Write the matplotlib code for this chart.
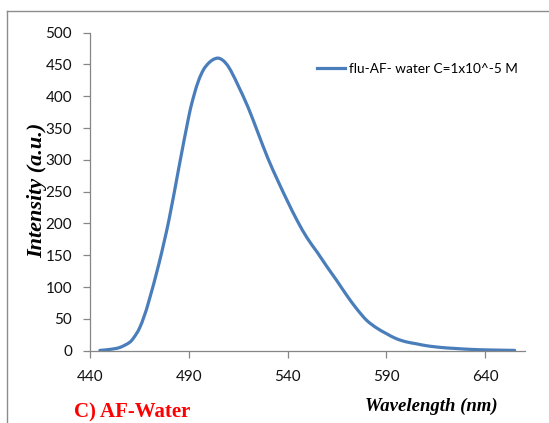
import matplotlib
matplotlib.use("Agg")
import matplotlib.pyplot as plt
from matplotlib.lines import Line2D
from matplotlib.path import Path
from matplotlib.patches import PathPatch

# Fluorescence emission spectrum, AF in water
wavelength = [445, 450, 455, 460, 462.5, 465, 467.5, 470, 475, 480, 485, 490,
              492.5, 495, 497.5, 500, 502.5, 505, 507.5, 510, 512.5, 515, 520,
              525, 530, 535, 540, 545, 550, 555, 560, 565, 570, 575, 580, 585,
              590, 595, 600, 605, 610, 615, 620, 625, 630, 635, 640, 645, 650, 655]
intensity = [0.5, 2, 5, 13, 22, 35, 55, 80, 138, 206, 288, 368,
             400, 425, 442, 452, 458, 460, 456, 447, 433, 417, 383,
             343, 303, 268, 235, 204, 177, 155, 132, 110, 87, 66, 48, 36,
             27, 19, 14, 11, 8, 6, 4.5, 3.5, 2.5, 1.8, 1.3, 1.0, 0.7, 0.5]

x_ticks = [440, 490, 540, 590, 640]
y_ticks = [0, 50, 100, 150, 200, 250, 300, 350, 400, 450, 500]
series_label = "flu-AF- water C=1x10^-5 M"
line_color = "#4a7ebb"

W, H = 549, 423
fig = plt.figure(figsize=(W / 100, H / 100), dpi=100)
ax = fig.add_axes([90 / W, 1 - 350.7 / H, (524.5 - 90) / W, (350.7 - 32.7) / H])

sans = ["Lato", "DejaVu Sans"]
serif = ["Liberation Serif", "DejaVu Serif"]


def smooth_path(xs, ys, t=1 / 6):
    """Cubic Bezier path through the points (smoothed line, Catmull-Rom style)."""
    n = len(xs)
    verts = [(xs[0], ys[0])]
    codes = [Path.MOVETO]
    for i in range(n - 1):
        x0, y0 = (xs[i - 1], ys[i - 1]) if i > 0 else (xs[i], ys[i])
        x1, y1 = xs[i], ys[i]
        x2, y2 = xs[i + 1], ys[i + 1]
        x3, y3 = (xs[i + 2], ys[i + 2]) if i + 2 < n else (x2, y2)
        c1 = (x1 + (x2 - x0) * t, y1 + (y2 - y0) * t)
        c2 = (x2 - (x3 - x1) * t, y2 - (y3 - y1) * t)
        verts += [c1, c2, (x2, y2)]
        codes += [Path.CURVE4] * 3
    return Path(verts, codes)


ax.add_patch(PathPatch(smooth_path(wavelength, intensity), facecolor="none",
                       edgecolor=line_color, lw=2.3, capstyle="round", joinstyle="round"))
# legend handle
ax.plot([], [], color=line_color, lw=2.3, label=series_label)

ax.set_xlim(440, 660)
ax.set_ylim(0, 500)
ax.set_xticks(x_ticks)
ax.set_yticks(y_ticks)
for s in ["top", "right"]:
    ax.spines[s].set_visible(False)
for s in ["left", "bottom"]:
    ax.spines[s].set_color("#868686")
    ax.spines[s].set_linewidth(0.9)
ax.tick_params(axis="both", direction="out", length=5, width=0.9, color="#868686",
               labelcolor="#111111")
ax.tick_params(axis="y", pad=8)
ax.tick_params(axis="x", pad=9)
for lab in ax.get_xticklabels() + ax.get_yticklabels():
    lab.set_family(sans)
    lab.set_fontsize(11)

ax.legend(loc="upper left", bbox_to_anchor=((310 - 90) / (524.5 - 90), 1 - (56 - 32.7) / 318),
          frameon=False, handlelength=2.1, handletextpad=0.3, borderpad=0,
          prop={"family": sans, "size": 9.8})

fig.text(37 / W, 1 - 190 / H, "Intensity (a.u.)", rotation=90, ha="center", va="center",
         family=serif, weight="bold", style="italic", fontsize=16)
fig.text(431 / W, 1 - 406 / H, "Wavelength (nm)", ha="center", va="center",
         family=serif, weight="bold", style="italic", fontsize=13.5)
fig.text(132 / W, 1 - 412 / H, "C) AF-Water", ha="center", va="center",
         family=serif, weight="bold", color="#ff0000", fontsize=15)

# chart-area border
fig.add_artist(Line2D([7 / W, 7 / W], [0, 1 - 11 / H], transform=fig.transFigure,
                      color="#8c8c8c", lw=1.0))
fig.add_artist(Line2D([7 / W, 1], [1 - 11 / H, 1 - 11 / H], transform=fig.transFigure,
                      color="#8c8c8c", lw=1.0))

fig.savefig("out.png", dpi=100)
